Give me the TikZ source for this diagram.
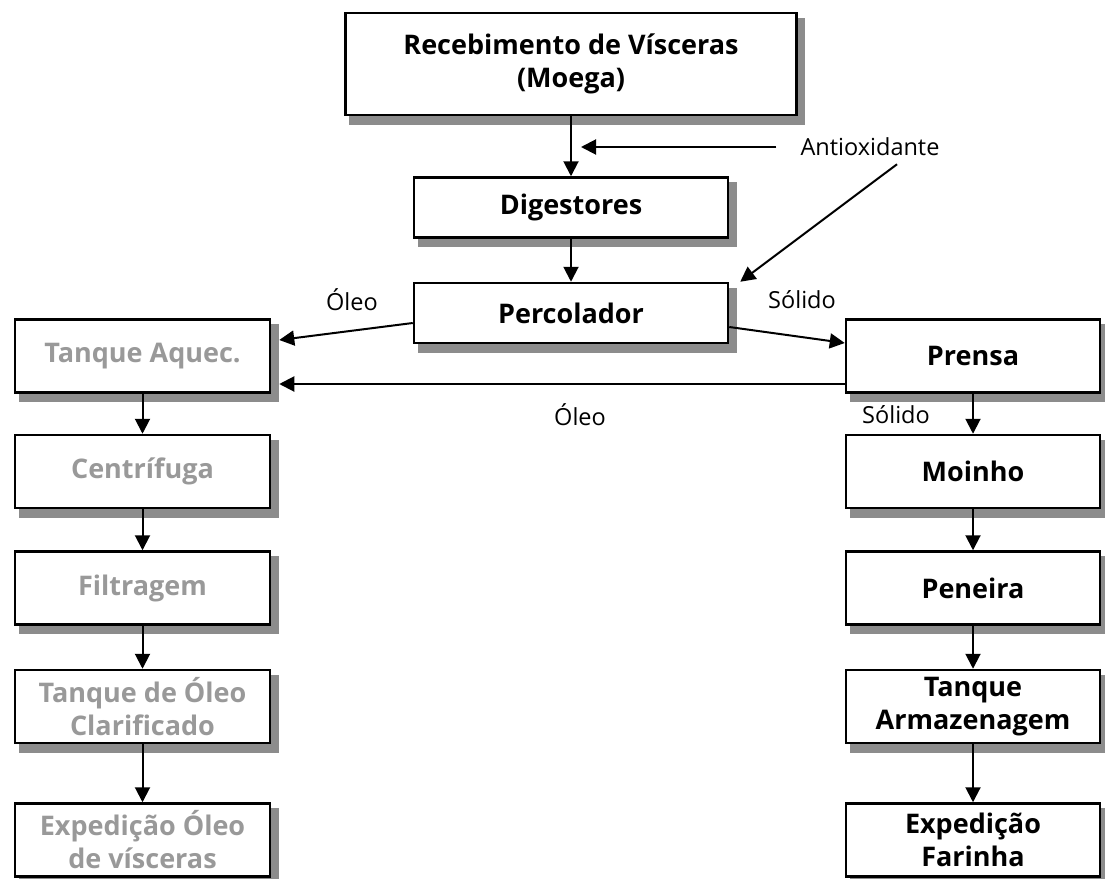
\documentclass[tikz,border=0pt]{standalone}
\usepackage{fontspec}
\setmainfont{Open Sans}
\usepackage{xcolor}
\usepackage{tikz}
\usetikzlibrary{shapes,arrows.meta,positioning,calc,backgrounds}

\begin{document}
\begin{tikzpicture}[x=1pt, y=1pt, node distance=40pt, >={Triangle[length=15pt,width=15pt]},
    pbox/.style={rectangle, draw, line width=2.5pt, fill=white, align=center, inner sep=2pt,
        font=\fontsize{27}{33}\selectfont\bfseries},
    lbox/.style={pbox, minimum width=255pt, minimum height=73pt, text=black!40},
    rbox/.style={pbox, minimum width=254pt, minimum height=73pt},
    lbl/.style={font=\fontsize{23.5}{26}\selectfont, inner sep=0pt},
    boxshadow/.style={fill=black!45, draw=black!45, line width=2.5pt},
    flow/.style={->, line width=2pt}]

    \useasboundingbox (0,0) rectangle (1105,-878);

    % main line
    \node[pbox, minimum width=451pt, minimum height=102pt] (rec) at (571,-64) {Recebimento de Vísceras\\(Moega)};
    \node[pbox, minimum width=314pt, minimum height=60pt, below=60pt of rec] (dig) {Digestores};
    \node[pbox, minimum width=314pt, minimum height=60pt, below=43pt of dig] (perc) {Percolador};

    % oil side
    \node[lbox] (tq) at (142.5,-356) {Tanque Aquec.};
    \node[lbox, below=40pt of tq] (centr) {Centrífuga};
    \node[lbox, below=41pt of centr] (filt) {Filtragem};
    \node[lbox, below=43pt of filt] (tqoleo) {Tanque de Óleo\\Clarificado};
    \node[lbox, below=58pt of tqoleo] (expoleo) {Expedição Óleo\\de vísceras};

    % solid side
    \node[rbox] (prensa) at (973,-356) {Prensa};
    \node[rbox, below=40pt of prensa] (moinho) {Moinho};
    \node[rbox, below=41pt of moinho] (peneira) {Peneira};
    \node[rbox, below=43pt of peneira] (tqarm) {Tanque\\Armazenagem};
    \node[rbox, below=58pt of tqarm] (expfar) {Expedição\\Farinha};

    % shadows behind the boxes
    \begin{scope}[on background layer]
        \foreach \b in {rec,dig,perc,tq,centr,filt,tqoleo,expoleo,prensa,moinho,peneira,tqarm,expfar}
            \filldraw[boxshadow] ([shift={(6pt,-7pt)}]\b.south west) rectangle ([shift={(6pt,-7pt)}]\b.north east);
    \end{scope}

    % labels
    \node[lbl] (anti) at (870,-147) {Antioxidante};
    \node[lbl] (oleo1) at (352,-300) {Óleo};
    \node[lbl] (solido1) at (802,-300) {Sólido};
    \node[lbl] (oleo2) at (580,-415) {Óleo};
    \node[lbl] (solido2) at (896,-415) {Sólido};

    \draw[flow] (rec) -- (dig);
    \draw[flow] ([xshift=-24pt]anti.west) -- ([xshift=10pt]anti.west -| dig.north);
    \draw[flow] ([xshift=27pt,yshift=-8pt]anti.south) -- ([xshift=11pt]perc.north east);
    \draw[flow] (dig) -- (perc);
    \draw[flow] ([yshift=-10pt]perc.west) -- ([xshift=8pt,yshift=16pt]tq.east);
    \draw[flow] ([yshift=-14pt]perc.east) -- ([yshift=13pt]prensa.west);
    \draw[flow] ([yshift=-28pt]prensa.west) -- ([xshift=8pt,yshift=-28pt]tq.east);

    \draw[flow] (tq) -- (centr);
    \draw[flow] (centr) -- (filt);
    \draw[flow] (filt) -- (tqoleo);
    \draw[flow] (tqoleo) -- (expoleo);

    \draw[flow] (prensa) -- (moinho);
    \draw[flow] (moinho) -- (peneira);
    \draw[flow] (peneira) -- (tqarm);
    \draw[flow] (tqarm) -- (expfar);
\end{tikzpicture}
\end{document}
